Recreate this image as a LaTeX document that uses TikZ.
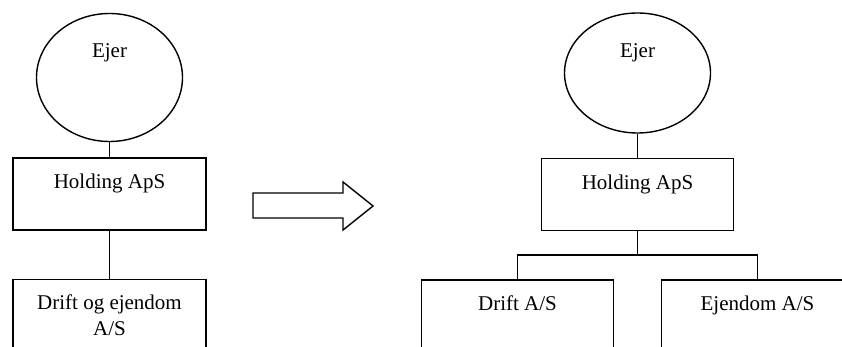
\documentclass[tikz,border=0pt]{standalone}
\usepackage{fontspec}
\setmainfont{Liberation Serif}
\usetikzlibrary{shapes,positioning}

\begin{document}
\begin{tikzpicture}[
    x=1pt, y=-1pt,
    owner/.style={ellipse, draw, line width=1.4pt, inner sep=0pt, minimum width=146pt, minimum height=128pt, text height=10pt, text depth=49pt},
    company/.style={rectangle, draw, line width=1.4pt, inner sep=0pt, minimum width=193pt, text height=31pt, text depth=41pt, align=center},
    link/.style={line width=1.4pt},
    font=\fontsize{21}{26}\selectfont
]
    \useasboundingbox (0,0) rectangle (842,347);
    \clip (0,0) rectangle (842,347);

    % before
    \node[owner] (ejerA) at (109.5,77.5) {Ejer};
    \node[company, below=15pt of ejerA] (holdA) {Holding ApS};
    \node[company, below=48pt of holdA, text height=56pt, text depth=16pt] (driftA) {Drift og ejendom\\A/S};

    \draw[link] (ejerA) -- (holdA);
    \draw[link] (holdA) -- (driftA);

    % big arrow
    \draw[line width=1.4pt] (253,193) -- (343,193) -- (343,182) -- (373,206) -- (343,230) -- (343,218) -- (253,218) -- cycle;

    % after
    \node[owner, minimum height=120pt, text depth=40pt] (ejerB) at (637.5,73) {Ejer};
    \node[company, minimum width=192pt, below=24pt of ejerB] (holdB) {Holding ApS};
    \coordinate[below=24pt of holdB] (fork);
    \node[company, minimum width=192pt, below=24pt of fork, xshift=-120pt] (driftB) {Drift A/S};
    \node[company, minimum width=192pt, below=24pt of fork, xshift=120pt] (ejendomB) {Ejendom A/S};

    \draw[link] (ejerB) -- (holdB);
    \draw[link] (holdB.south) -- (fork);
    \draw[link] (driftB.north) |- (fork) -| (ejendomB.north);
\end{tikzpicture}
\end{document}
